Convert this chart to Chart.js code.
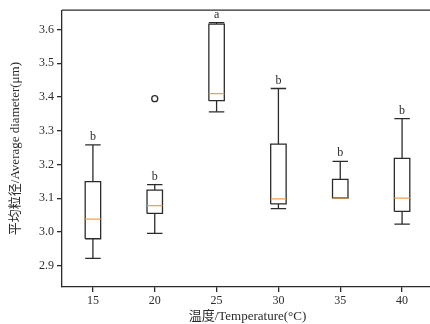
<!DOCTYPE html>
<html>
<head>
<meta charset="utf-8">
<script src="https://cdn.jsdelivr.net/npm/chart.js@4/dist/chart.umd.min.js"></script>
<style>
html,body{margin:0;padding:0;background:#fff;overflow:hidden;width:430px;height:324px;}
canvas{display:block;}
</style>
</head>
<body>
<canvas id="c" width="440" height="324" style="width:440px;height:324px"></canvas>
<script>
// ---- data ----
const temps = ['15', '20', '25', '30', '35', '40'];
const whiskerLow  = [2.922, 2.996, 3.356, 3.069, 3.100, 3.023];
const q1          = [2.980, 3.055, 3.389, 3.083, 3.100, 3.061];
const median      = [3.038, 3.078, 3.410, 3.098, 3.100, 3.100];
const q3          = [3.149, 3.124, 3.616, 3.260, 3.156, 3.218];
const whiskerHigh = [3.258, 3.140, 3.620, 3.425, 3.209, 3.336];
const outliers    = [[], [3.395], [], [], [], []];
const letters     = ['b', 'b', 'a', 'b', 'b', 'b'];
const yTicks      = [2.9, 3.0, 3.1, 3.2, 3.3, 3.4, 3.5, 3.6];

const boxWidth = 0.25;
const INK = '#2b2b2b';
const ORANGE = '#f0a04b';
const FONT = "'Liberation Serif', 'Times New Roman', 'Noto Sans CJK SC', serif";

function lineDs(pts, color, order) {
  return {data: pts, showLine: true, borderColor: color, borderWidth: 1.3,
          pointRadius: 0, fill: false, order: order, spanGaps: false,
          borderJoinStyle: 'miter', borderCapStyle: 'butt'};
}

const datasets = [];
temps.forEach((t, i) => {
  const p = i + 1, h = boxWidth / 2;
  datasets.push(lineDs([{x:p-h,y:q1[i]},{x:p+h,y:q1[i]},{x:p+h,y:q3[i]},{x:p-h,y:q3[i]},{x:p-h,y:q1[i]}], INK, 2));
  datasets.push(lineDs([{x:p,y:q1[i]},{x:p,y:whiskerLow[i]}], INK, 2));
  datasets.push(lineDs([{x:p,y:q3[i]},{x:p,y:whiskerHigh[i]}], INK, 2));
  datasets.push(lineDs([{x:p-h,y:whiskerLow[i]},{x:p+h,y:whiskerLow[i]}], INK, 2));
  datasets.push(lineDs([{x:p-h,y:whiskerHigh[i]},{x:p+h,y:whiskerHigh[i]}], INK, 2));
  datasets.push(lineDs([{x:p-h,y:median[i]},{x:p+h,y:median[i]}], ORANGE, 0));
});
const outPts = [];
outliers.forEach((arr, i) => arr.forEach(v => outPts.push({x: i + 1, y: v})));
datasets.push({data: outPts, showLine: false, pointRadius: 3, pointBorderWidth: 1.3,
               pointBorderColor: INK, pointBackgroundColor: 'rgba(255,255,255,0)', order: 0});

const framePlugin = {
  id: 'frame',
  afterDraw(chart) {
    const {ctx, chartArea: a} = chart;
    ctx.save();
    ctx.strokeStyle = INK;
    ctx.lineWidth = 1.3;
    ctx.beginPath();
    ctx.moveTo(a.left, a.top);
    ctx.lineTo(a.right + 10, a.top);
    ctx.stroke();
    ctx.restore();
  }
};
const letterPlugin = {
  id: 'letters',
  afterDatasetsDraw(chart) {
    const {ctx} = chart;
    const xs = chart.scales.x, ys = chart.scales.y;
    ctx.save();
    ctx.fillStyle = INK;
    ctx.font = "12px " + FONT;
    ctx.textAlign = 'center';
    ctx.textBaseline = 'alphabetic';
    letters.forEach((l, i) => {
      ctx.fillText(l, xs.getPixelForValue(i + 1), ys.getPixelForValue(whiskerHigh[i]) - 5);
    });
    ctx.restore();
  }
};

new Chart(document.getElementById('c'), {
  type: 'scatter',
  data: {datasets},
  options: {
    responsive: false,
    animation: false,
    events: [],
    layout: {padding: {top: 10, right: 7, left: 0, bottom: 0}},
    plugins: {legend: {display: false}, tooltip: {enabled: false}},
    scales: {
      x: {
        type: 'linear', min: 0.5, max: 6.5,
        afterBuildTicks: s => { s.ticks = temps.map((t, i) => ({value: i + 1})); },
        afterFit: s => { s.height = 37; },
        ticks: {callback: v => temps[Math.round(v) - 1], color: INK, font: {family: FONT, size: 12},
                padding: 2, autoSkip: false, maxRotation: 0},
        grid: {drawOnChartArea: false, tickLength: 5, color: INK, lineWidth: 1.3},
        border: {color: INK, width: 1.3},
        title: {display: true, text: '温度/Temperature(°C)', color: INK,
                font: {family: FONT, size: 13}, padding: {top: 0, bottom: 0}}
      },
      y: {
        type: 'linear', min: 2.837, max: 3.657,
        afterBuildTicks: s => { s.ticks = yTicks.map(v => ({value: v})); },
        afterFit: s => { s.width = 62; },
        ticks: {callback: v => Number(v).toFixed(1), color: INK, font: {family: FONT, size: 12}, padding: 3},
        grid: {drawOnChartArea: false, tickLength: 5, color: INK, lineWidth: 1.3},
        border: {color: INK, width: 1.3},
        title: {display: true, text: '平均粒径/Average diameter(μm)', color: INK,
                font: {family: FONT, size: 13}, padding: {top: 8, bottom: 0}}
      }
    }
  },
  plugins: [framePlugin, letterPlugin]
});
</script>
</body>
</html>
